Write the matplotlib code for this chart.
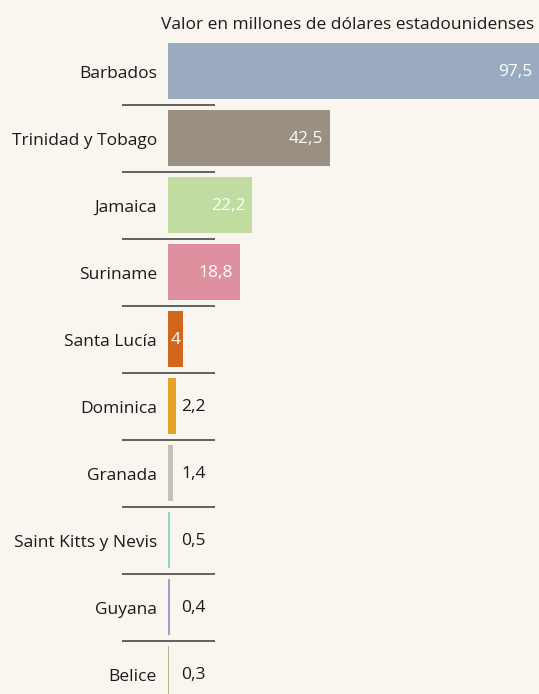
import matplotlib
matplotlib.use("Agg")
import matplotlib.pyplot as plt

# data
countries = ["Barbados", "Trinidad y Tobago", "Jamaica", "Suriname", "Santa Lucía",
             "Dominica", "Granada", "Saint Kitts y Nevis", "Guyana", "Belice"]
values = [97.5, 42.5, 22.2, 18.8, 4, 2.2, 1.4, 0.5, 0.4, 0.3]
colors = ["#9aaac1", "#9a8f83", "#c1dca1", "#de909f", "#d1661d",
          "#e6a229", "#c8bfb6", "#8fd6c6", "#a19bd1", "#a9b992"]
title = "Valor en millones de dólares estadounidenses"

plt.rcParams["font.family"] = ["Open Sans", "DejaVu Sans"]
bg = "#f9f6ef"

W, H = 539, 694
fig = plt.figure(figsize=(W / 100, H / 100), dpi=100, facecolor=bg)
left_px = 168
ax = fig.add_axes([left_px / W, 0, 1 - left_px / W, 1])
ax.set_facecolor(bg)

pos = list(range(len(values)))
ax.barh(pos, values, height=0.836, color=colors)
ax.set_xlim(0, 97.5)
ax.set_ylim((694 - 71) / 67, -71 / 67)

px = 97.5 / (W - left_px)  # data units per pixel
fs = 12.5

for i, v in enumerate(values):
    txt = f"{v:g}".replace(".", ",")
    if v >= 10:
        ax.text(v - 7 * px, i + 0.02, txt, ha="right", va="center", color="white", fontsize=fs)
    elif v >= 4:
        ax.text(v / 2, i + 0.02, txt, ha="center", va="center", color="white", fontsize=fs)
    else:
        ax.text(13 * px, i + 0.02, txt, ha="left", va="center", color="#1a1a1a", fontsize=fs)

# separators between rows
for i in range(len(values) - 1):
    ax.plot([-46 * px, 47 * px], [i + 0.5, i + 0.5], color="#555555", lw=1.3,
            clip_on=False, solid_capstyle="butt")

ax.set_yticks([p + 0.02 for p in pos])
ax.set_yticklabels(countries, fontsize=fs, color="#1a1a1a")
ax.tick_params(axis="y", length=0, pad=8)
ax.set_xticks([])
for s in ax.spines.values():
    s.set_visible(False)

fig.text(534 / W, 1 - 25 / H, title, ha="right", va="center", fontsize=fs, color="#1a1a1a")

fig.savefig("out.png", dpi=100, facecolor=bg)
